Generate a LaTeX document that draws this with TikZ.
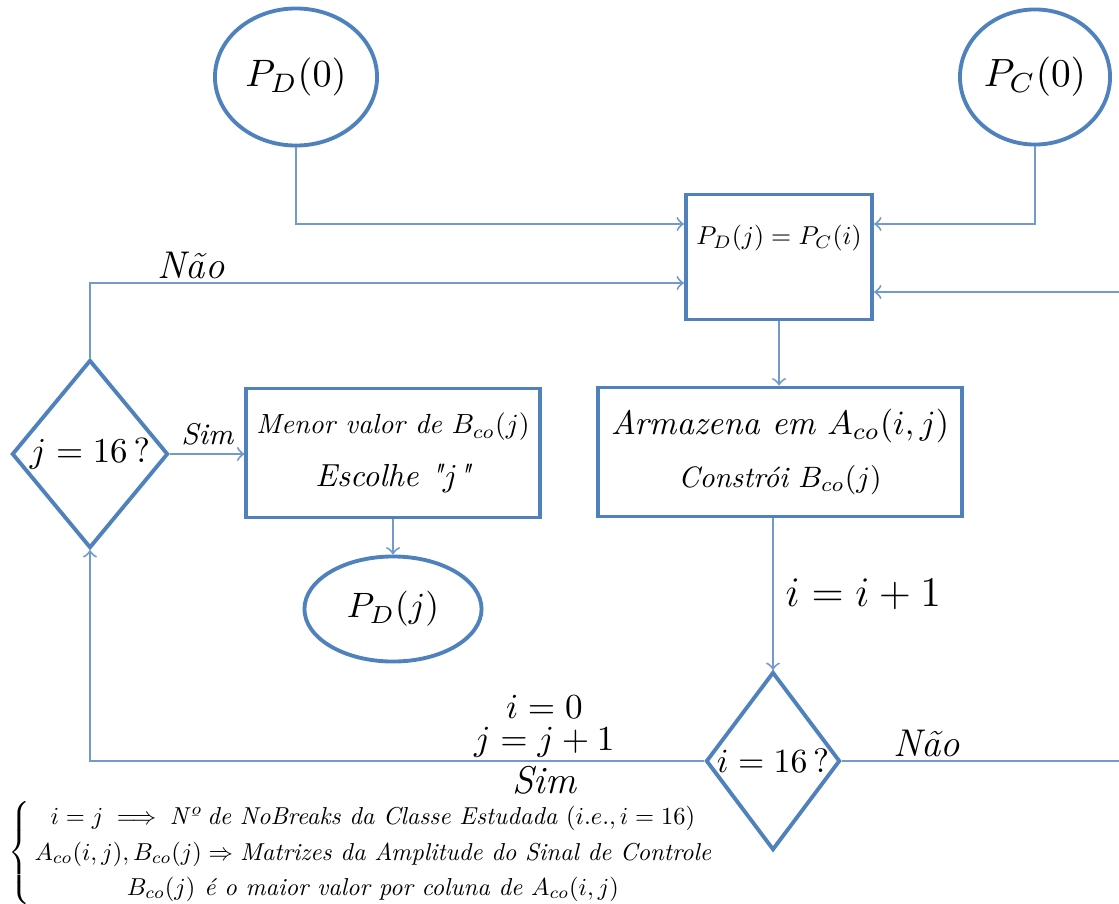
\documentclass[tikz,border=0pt]{standalone}
\usepackage{amsmath,amssymb,graphicx}
\usepackage{tikz}
\usepackage{xcolor}
\usetikzlibrary{calc,positioning,shapes.geometric}
\definecolor{boxcol}{RGB}{79,129,189}
\colorlet{linecol}{boxcol!80}
\newcommand{\fitw}[2]{\resizebox{#1}{!}{#2}}
\tikzset{
  boxnode/.style={draw=boxcol, line width=1.1pt, rectangle, inner sep=0pt, align=center},
  termnode/.style={draw=boxcol, line width=1.1pt, ellipse, inner sep=0pt},
  decnode/.style={draw=boxcol, line width=1.1pt, diamond, inner sep=0pt},
  conn/.style={draw=linecol, line width=0.55pt, ->}
}

\begin{document}
\begin{tikzpicture}[x=0.01cm, y=-0.01cm, every node/.style={font=\normalsize}]
  \useasboundingbox (0,0) rectangle (1119,903);
  \clip (0,0) rectangle (1119,903);
  \node[termnode, minimum width=1.62cm, minimum height=1.37cm] (pd0) at (296,77) {\makebox[0pt]{\fitw{1.01cm}{$P_D(0)$}}};
  \node[termnode, minimum width=1.50cm, minimum height=1.35cm] (pc0) at (1035,77) {\makebox[0pt]{\fitw{1.02cm}{$P_C(0)$}}};
  \node[boxnode, minimum width=1.86cm, minimum height=1.25cm] (eqbox) at (779,257) {};
  \node (eqtxt) at (779,238) {\fitw{1.65cm}{$P_D(j) = P_C(i)$}};
  \node[boxnode, minimum width=3.64cm, minimum height=1.29cm] (armbox) at (780,452)
    {\fitw{3.38cm}{\itshape Armazena em $A_{co}(i,j)$}\\[3pt] \fitw{2.03cm}{\itshape Constrói $B_{co}(j)$}};
  \node[decnode, minimum width=1.34cm, minimum height=1.78cm] (idec) at (773,761) {\makebox[0pt]{\fitw{1.12cm}{$i = 16\,?$}}};
  \node[decnode, minimum width=1.56cm, minimum height=1.88cm] (jdec) at (90,454) {\makebox[0pt]{\fitw{1.20cm}{$j = 16\,?$}}};
  \node[boxnode, minimum width=2.93cm, minimum height=1.29cm] (menbox) at (393,453)
    {\fitw{2.73cm}{\itshape Menor valor de $B_{co}(j)$}\\[3pt] \fitw{1.55cm}{\itshape Escolhe \textquotedbl$j$\textquotedbl}};
  \node[termnode, minimum width=1.77cm, minimum height=1.05cm] (pdj) at (393,609) {\makebox[0pt]{\fitw{0.92cm}{$P_D(j)$}}};
  \node[anchor=west, inner sep=0pt] (notes) at (8,853) {\fitw{7.05cm}{\renewcommand{\arraystretch}{1.2}$\left\{\,\begin{array}{@{}c@{}}
      i = j \implies \text{\itshape Nº de NoBreaks da Classe Estudada } (i.e.,i = 16)\\
      A_{co}(i,j), B_{co}(j) \Rightarrow \text{\itshape Matrizes da Amplitude do Sinal de Controle}\\
      B_{co}(j) \text{\itshape\ é o maior valor por coluna de } A_{co}(i,j)
    \end{array}\right.$}};
  \coordinate (rturn) at (1124,292);

  \draw[conn] (pd0.south) |- (eqbox.west |- 0,224);
  \draw[conn] (pc0.south) |- (eqbox.east |- 0,224);
  \draw[conn] (jdec.north) |- (eqbox.west |- 0,283)
    node[pos=0.585, above, yshift=-2.5pt, font=\fontsize{11}{13}\selectfont\itshape] {Não};
  \draw[conn] (eqbox.south) -- (eqbox.south |- armbox.north);
  \draw[conn] (armbox.south -| idec.north) -- (idec.north)
    node[midway, right=0pt, font=\large] {$i = i + 1$};
  \draw[conn] (jdec.east) -- (jdec.east -| menbox.west)
    node[midway, above, yshift=-1pt, font=\fontsize{8.5}{10}\selectfont\itshape] {Sim};
  \draw[conn] (menbox.south) -- (pdj.north);
  \draw[conn] (idec.west) -| (jdec.south)
    node[pos=0.13, above, yshift=-2.5pt, align=center] {$i = 0$\\[-3pt] $j = j + 1$}
    node[pos=0.13, below, yshift=2pt, font=\fontsize{11}{13}\selectfont\itshape] {Sim};
  \draw[conn] (idec.east) -| node[pos=0.15, above, yshift=-2.5pt, font=\fontsize{11}{13}\selectfont\itshape] {Não} (rturn) |- (eqbox.east |- rturn);
\end{tikzpicture}
\end{document}
